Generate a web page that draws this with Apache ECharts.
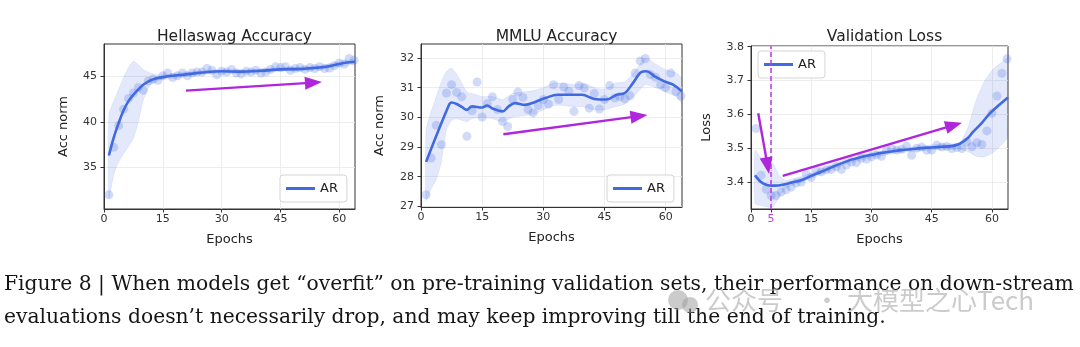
<!DOCTYPE html>
<html><head><meta charset="utf-8">
<script src="https://cdn.jsdelivr.net/npm/echarts@6/dist/echarts.min.js"></script>
<style>html,body{margin:0;padding:0;background:#fff}#c{width:1080px;height:347px}</style>
</head><body><div id="c"></div>
<script>
// ---------- data ----------
const epochs = [1.25,2.5,3.75,5,6.25,7.5,8.75,10,11.25,12.5,13.75,15,16.25,17.5,18.75,20,21.25,22.5,23.75,25,26.25,27.5,28.75,30,31.25,32.5,33.75,35,36.25,37.5,38.75,40,41.25,42.5,43.75,45,46.25,47.5,48.75,50,51.25,52.5,53.75,55,56.25,57.5,58.75,60,61.25,62.5,63.75];
const xTicks = [0,15,30,45,60];

// Hellaswag Accuracy
const hsPoints = [31.96,37.2,39.6,41.4,42.6,43.2,43.8,43.5,44.5,44.7,44.6,45.1,45.4,44.9,45.1,45.4,45.1,45.4,45.5,45.5,45.9,45.7,45.2,45.6,45.5,45.8,45.4,45.3,45.6,45.5,45.7,45.4,45.5,45.8,46.1,46.0,46.1,45.7,45.9,46.0,45.8,46.0,45.9,46.1,45.9,45.95,46.2,46.5,46.4,47.0,46.8];
const hsLineX = [1.25,2.5,3.75,5,6.25,7.5,8.75,10,11.25,12.5,13.75,15,17.5,20,25,30,35,40,45,50,55,58,60,62,64];
const hsLineY = [36.3,38.3,39.9,41.3,42.3,43.0,43.6,44.1,44.45,44.7,44.85,44.95,45.1,45.2,45.45,45.6,45.55,45.65,45.8,45.85,46.0,46.2,46.4,46.55,46.65];
const hsBandX = [1.25,2.5,3.75,5,6.25,7.5,8.75,10,11.25,12.5,13.75,15,20,25,30,35,40,45,50,55,60,64];
const hsBandLo = [31.6,34.2,35.6,36.5,37.3,38.2,40.0,42.4,43.7,44.3,44.6,44.7,44.95,45.25,45.4,45.35,45.45,45.6,45.65,45.8,46.15,46.4];
const hsBandHi = [40.8,42.3,43.6,44.9,46.0,46.7,46.3,45.8,45.5,45.3,45.2,45.2,45.45,45.65,45.8,45.75,45.85,46.0,46.05,46.2,46.65,46.9];
const hsTicks = [35,40,45];
const hsArrows = [[[20.9,43.46],[53.4,44.34]]];

// MMLU Accuracy
const mmluPoints = [27.39,28.63,29.73,29.08,30.82,31.1,30.84,30.69,29.36,30.22,31.19,30.01,30.46,30.69,30.26,29.86,29.69,30.6,30.85,30.67,30.26,30.15,30.4,30.6,30.45,31.1,30.6,31.02,30.88,30.2,31.07,30.99,30.31,30.8,30.28,30.6,31.07,30.65,30.7,30.62,30.73,31.49,31.9,31.98,31.44,31.35,31.1,31.0,31.49,30.87,30.72];
const mmluLineX = [1.25,6.8,7.5,8.75,10,11.25,12.5,15,16.25,17.5,20,21.5,23,25.5,28,30.5,33.5,37,39.5,42.5,45.5,48,50,52,54,55.3,57.3,59.7,61.8,64];
const mmluLineY = [28.5,30.4,30.5,30.45,30.35,30.25,30.37,30.33,30.4,30.3,30.2,30.37,30.48,30.42,30.52,30.65,30.76,30.76,30.76,30.62,30.6,30.76,30.82,31.16,31.52,31.55,31.38,31.21,31.1,30.87];
const mmluBandX = [1.25,2.5,3.75,5,6.25,7.5,8.75,10,11.25,12.5,15,17.5,20,22.5,25,27.5,30,32.5,35,37.5,40,42.5,45,47.5,50,52.5,55,57.5,60,62.5,64];
const mmluBandLo = [27.2,27.6,27.9,28.5,29.6,29.9,29.95,29.9,29.85,29.95,30.0,29.95,29.85,30.0,30.05,30.1,30.25,30.4,30.4,30.35,30.35,30.25,30.25,30.35,30.45,30.75,31.1,31.0,30.85,30.7,30.5];
const mmluBandHi = [29.6,30.2,30.7,31.2,31.55,31.65,31.45,31.15,30.85,30.8,30.7,30.7,30.6,30.8,30.85,30.9,31.0,31.15,31.15,31.1,31.15,31.0,30.95,31.15,31.2,31.55,32.0,31.8,31.6,31.5,31.3];
const mmluTicks = [27,28,29,30,31,32];
const mmluArrows = [[[20.2,29.43],[53.45,30.04]]];

// Validation Loss
const lossPoints = [3.558,3.42,3.378,3.36,3.36,3.37,3.377,3.385,3.397,3.40,3.423,3.413,3.435,3.43,3.436,3.437,3.445,3.437,3.45,3.459,3.457,3.47,3.468,3.474,3.48,3.476,3.494,3.499,3.494,3.497,3.506,3.479,3.50,3.503,3.494,3.494,3.509,3.503,3.505,3.499,3.502,3.499,3.518,3.504,3.516,3.511,3.551,3.603,3.654,3.721,3.764];
const lossLineX = [1,2,3,4,5,6,8,10,12.5,15,17.5,20,22.5,25,27.5,30,32.5,35,37.5,40,42.5,45,47.5,50,52,54,55.3,57.5,59.5,62,64];
const lossLineY = [3.42,3.405,3.396,3.391,3.389,3.389,3.392,3.398,3.405,3.418,3.43,3.443,3.455,3.466,3.474,3.48,3.486,3.49,3.494,3.497,3.5,3.502,3.504,3.506,3.513,3.53,3.548,3.575,3.603,3.63,3.65];
const lossBandX = [1,2.5,4,5.5,7,8.5,10,15,20,25,30,35,40,45,50,52,54,56,58,60,62,64];
const lossBandLo = [3.336,3.33,3.326,3.326,3.356,3.378,3.389,3.41,3.435,3.458,3.472,3.483,3.49,3.495,3.497,3.497,3.49,3.476,3.474,3.485,3.505,3.535];
const lossBandHi = [3.494,3.47,3.455,3.455,3.418,3.405,3.408,3.426,3.451,3.474,3.488,3.497,3.503,3.51,3.513,3.515,3.56,3.64,3.695,3.73,3.75,3.765];
const lossTicks = [3.4,3.5,3.6,3.7,3.8];
const lossXTicks = [0,5,15,30,45,60];
const lossArrows = [[[1.8,3.603],[4.13,3.448]],[[7.9,3.418],[50.5,3.568]]];
const bestEpoch = 5;

const titles = ['Hellaswag Accuracy','MMLU Accuracy','Validation Loss'];
const yNames = ['Acc norm','Acc norm','Loss'];
const captionLines = [
  'Figure 8 | When models get \u201coverfit\u201d on pre-training validation sets, their performance on down-stream',
  'evaluations doesn\u2019t necessarily drop, and may keep improving till the end of training.'
];
const watermarkParts = ['公众号', '·', '大模型之心Tech'];

// ---------- layout / style ----------
const BLUE = '#4169e1';
const ARROW = '#b026dd';
const VLINE = '#c040e8';
const FONT = 'DejaVu Sans';
const grids = [
  {left:104, top:44, width:251, height:165},
  {left:421, top:44, width:261, height:163},
  {left:751, top:46, width:257, height:163}
];
const yRanges = [[30.4,48.6],[26.98,32.47],[3.32,3.802]];
const yTickSets = [hsTicks, mmluTicks, lossTicks];
const xTickSets = [xTicks, xTicks, lossXTicks];
const yNameGaps = [34,35,38];
const legendPos = [{left:280, top:175},{left:607, top:175},{left:758, top:51}];

const panels = [
  {pts:hsPoints, lx:hsLineX, ly:hsLineY, bx:hsBandX, lo:hsBandLo, hi:hsBandHi, arrows:hsArrows},
  {pts:mmluPoints, lx:mmluLineX, ly:mmluLineY, bx:mmluBandX, lo:mmluBandLo, hi:mmluBandHi, arrows:mmluArrows},
  {pts:lossPoints, lx:lossLineX, ly:lossLineY, bx:lossBandX, lo:lossBandLo, hi:lossBandHi, arrows:lossArrows}
];

const zip = (a,b) => a.map((v,i)=>[v,b[i]]);

const xAxes = grids.map((g,i)=>({
  type:'value', gridIndex:i, min:0, max:64, interval:15,
  name:'Epochs', nameLocation:'middle', nameGap:24,
  nameTextStyle:{fontFamily:FONT, fontSize:13, color:'#222'},
  axisLine:{show:true, onZero:false, lineStyle:{color:'#333', width:1}},
  axisTick:{show:true, inside:false, length:3.5, lineStyle:{color:'#333'}, customValues:xTickSets[i]},
  axisLabel:{fontFamily:FONT, fontSize:11, color:'#333', margin:5, customValues:xTickSets[i],
    formatter: v => (i===2 && v===bestEpoch) ? '{m|' + v + '}' : String(v),
    rich:{m:{color:VLINE, fontFamily:FONT, fontSize:11}}},
  splitLine:{show:true, lineStyle:{color:'#e8e8e8', width:0.8}}
}));
const yAxes = grids.map((g,i)=>({
  type:'value', gridIndex:i, min:yRanges[i][0], max:yRanges[i][1],
  name:yNames[i], nameLocation:'middle', nameGap:yNameGaps[i], nameRotate:90,
  nameTextStyle:{fontFamily:FONT, fontSize:13, color:'#222'},
  axisLine:{show:true, onZero:false, lineStyle:{color:'#333', width:1}},
  axisTick:{show:true, inside:false, length:3.5, lineStyle:{color:'#333'}, customValues:yTickSets[i]},
  axisLabel:{fontFamily:FONT, fontSize:11, color:'#333', margin:7, customValues:yTickSets[i],
    formatter: v => (i===2 ? v.toFixed(1) : String(v))},
  splitLine:{show:true, lineStyle:{color:'#e8e8e8', width:0.8}}
}));

const series = [];
panels.forEach((p,i)=>{
  // confidence band as one polygon through the axis scales
  series.push({
    type:'custom', xAxisIndex:i, yAxisIndex:i, name:'band-'+i, silent:true, z:1, clip:true,
    data: p.bx.map((x,k)=>[x, p.lo[k], p.hi[k]]),
    encode:{x:0, y:[1,2]},
    renderItem:(params, api)=>{
      if (params.dataIndex !== 0) return null;
      const up = p.bx.map((x,k)=>api.coord([x, p.hi[k]]));
      const dn = p.bx.map((x,k)=>api.coord([x, p.lo[k]])).reverse();
      return {type:'polygon', shape:{points: up.concat(dn), smooth:0.18},
        style:{fill:'rgba(65,105,225,0.15)', stroke:'rgba(65,105,225,0.12)', lineWidth:0.8}};
    }
  });
  const scatter = {
    type:'scatter', xAxisIndex:i, yAxisIndex:i, name:'pts-'+i,
    data: zip(epochs, p.pts), symbolSize:9,
    itemStyle:{color:'rgba(65,105,225,0.3)'}, silent:true, z:2
  };
  if (i===2) {
    scatter.markLine = {silent:true, animation:false, symbol:['none','none'],
      lineStyle:{color:VLINE, type:[5,3], width:1.6}, label:{show:false},
      data:[{xAxis:bestEpoch}]};
  }
  series.push(scatter);
  series.push({
    type:'line', xAxisIndex:i, yAxisIndex:i, name:'AR',
    data: zip(p.lx, p.ly), smooth:0.35, showSymbol:false, symbol:'none',
    lineStyle:{color:BLUE, width:2.6}, itemStyle:{color:BLUE}, z:3,
    markLine:{silent:true, animation:false, symbol:['none','triangle'], symbolSize:[13,17],
      lineStyle:{color:ARROW, width:2.4, type:'solid'}, label:{show:false},
      data: p.arrows.map(a=>[{coord:a[0]},{coord:a[1]}])}
  });
});

const captionFont = '20.3px "DejaVu Serif"';
const wmFont = '26px "Noto Sans CJK SC"';
const wmFill = 'rgba(160,160,160,0.55)';
const option = {
  animation:false,
  backgroundColor:'#fff',
  title: titles.map((t,i)=>({
    text:t, left: grids[i].left + grids[i].width/2, top:24, textAlign:'center',
    textStyle:{fontFamily:FONT, fontSize:15.5, fontWeight:'normal', color:'#222'}
  })),
  grid: grids.map(g=>({...g, show:true, borderColor:'#333', borderWidth:1, backgroundColor:'#fff', containLabel:false})),
  legend: legendPos.map(lp=>({
    ...lp, data:['AR'], icon:'rect', itemWidth:29, itemHeight:3, itemGap:5,
    padding:[7,9,7,6], borderColor:'#d4d4d4', borderWidth:1, borderRadius:3,
    backgroundColor:'rgba(255,255,255,0.85)', selectedMode:false,
    textStyle:{fontFamily:FONT, fontSize:13, color:'#222'}
  })),
  xAxis:xAxes, yAxis:yAxes, series,
  graphic:[
    {type:'text', left:4, top:275, style:{text:captionLines[0], font:captionFont, fill:'#151515'}},
    {type:'text', left:4, top:308, style:{text:captionLines[1], font:captionFont, fill:'#151515'}},
    {type:'circle', shape:{cx:678, cy:300, r:10}, z:100, style:{fill:wmFill}},
    {type:'circle', shape:{cx:690, cy:305, r:8}, z:100, style:{fill:wmFill}},
    {type:'text', left:705, top:287, z:100, style:{text:watermarkParts[0], font:wmFont, fill:wmFill}},
    {type:'text', left:814, top:287, z:100, style:{text:watermarkParts[1], font:wmFont, fill:wmFill}},
    {type:'text', left:847, top:287, z:100, style:{text:watermarkParts[2], font:wmFont, fill:wmFill}}
  ]
};
const chart = echarts.init(document.getElementById('c'), null, {renderer:'canvas'});
chart.setOption(option);
</script></body></html>
